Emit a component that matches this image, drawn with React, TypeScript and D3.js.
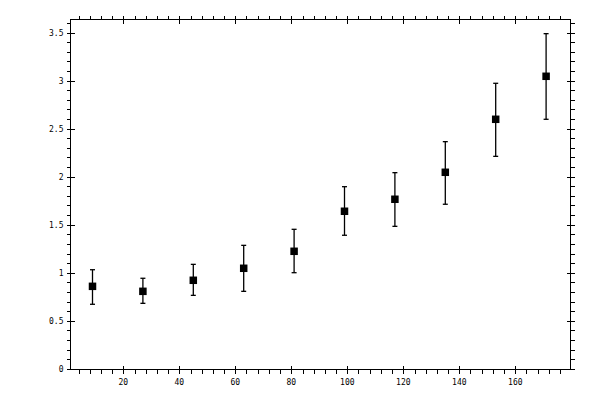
import React from 'react';
import * as d3 from 'd3';

const xValues = [9, 27, 45, 63, 81, 99, 117, 135, 153, 171];
const yValues = [0.858, 0.806, 0.921, 1.046, 1.223, 1.64, 1.765, 2.046, 2.598, 3.046];
const yUpper = [1.031, 0.942, 1.087, 1.285, 1.452, 1.896, 2.042, 2.365, 2.973, 3.49];
const yLower = [0.671, 0.681, 0.764, 0.806, 1.0, 1.39, 1.483, 1.713, 2.212, 2.598];

const xMajorTicks = [20, 40, 60, 80, 100, 120, 140, 160];
const yMajorTicks = [0, 0.5, 1, 1.5, 2, 2.5, 3, 3.5];
const yTickLabels = ['0', '0.5', '1', '1.5', '2', '2.5', '3', '3.5'];

const W = 600;
const H = 400;

const App: React.FC = () => {
  const x = d3.scaleLinear().domain([20, 160]).range([123.3, 515.3]);
  const y = d3.scaleLinear().domain([0, 3.5]).range([368.7, 32.7]);

  const left = Math.round(x(0.86)) + 0.5;
  const right = Math.round(x(179.6)) + 0.5;
  const top = Math.round(y(3.64)) + 0.5;
  const bottom = Math.round(y(-0.008)) + 0.5;

  const xMinor = d3.range(4, 180, 4).filter((v) => v % 20 !== 0);
  const yMinor = d3.range(1, 37).map((i) => i / 10).filter((_, i) => (i + 1) % 5 !== 0);

  const px = (v: number) => Math.round(x(v)) + 0.5;
  const py = (v: number) => Math.round(y(v)) + 0.5;

  const font = "'DejaVu Sans Mono', monospace";
  const box = 7.5;
  const cap = 2.5;

  return (
    <svg
      width={W}
      height={H}
      style={{ position: 'absolute', left: 0, top: 0, background: '#fff' }}
    >
      <rect x={0} y={0} width={W} height={H} fill="#fff" />
      <g stroke="#000" strokeWidth={1} shapeRendering="crispEdges">
        <rect x={left} y={top} width={right - left} height={bottom - top} fill="none" />
        {/* bottom and top ticks */}
        {xMinor.map((v) => (
          <g key={'xm' + v}>
            <line x1={px(v)} x2={px(v)} y1={bottom} y2={bottom + 4} />
            <line x1={px(v)} x2={px(v)} y1={top} y2={top - 4} />
          </g>
        ))}
        {xMajorTicks.map((v) => (
          <g key={'xM' + v}>
            <line x1={px(v)} x2={px(v)} y1={bottom - 4} y2={bottom + 4} />
            <line x1={px(v)} x2={px(v)} y1={top - 4} y2={top + 4} />
          </g>
        ))}
        {/* left and right ticks */}
        {yMinor.map((v) => (
          <g key={'ym' + v}>
            <line x1={left - 4} x2={left} y1={py(v)} y2={py(v)} />
            <line x1={right} x2={right + 4} y1={py(v)} y2={py(v)} />
          </g>
        ))}
        {yMajorTicks.map((v) => (
          <g key={'yM' + v}>
            <line x1={left - 4} x2={left + 4} y1={py(v)} y2={py(v)} />
            <line x1={right - 4} x2={right + 4} y1={py(v)} y2={py(v)} />
          </g>
        ))}
      </g>

      <g fontFamily={font} fontSize={8} fill="#000">
        {xMajorTicks.map((v) => (
          <text key={'xl' + v} x={x(v)} y={bottom + 15} textAnchor="middle">
            {v}
          </text>
        ))}
        {yMajorTicks.map((v, i) => (
          <text key={'yl' + v} x={left - 7} y={y(v) + 3} textAnchor="end">
            {yTickLabels[i]}
          </text>
        ))}
      </g>

      <g stroke="#000" strokeWidth={1.3}>
        {xValues.map((v, i) => (
          <g key={'e' + i}>
            <line x1={x(v)} x2={x(v)} y1={y(yUpper[i])} y2={y(yLower[i])} />
            <line x1={x(v) - cap} x2={x(v) + cap} y1={y(yUpper[i])} y2={y(yUpper[i])} />
            <line x1={x(v) - cap} x2={x(v) + cap} y1={y(yLower[i])} y2={y(yLower[i])} />
          </g>
        ))}
      </g>
      <g fill="#000">
        {xValues.map((v, i) => (
          <rect
            key={'p' + i}
            x={x(v) - box / 2}
            y={y(yValues[i]) - box / 2}
            width={box}
            height={box}
          />
        ))}
      </g>
    </svg>
  );
};

export default App;
